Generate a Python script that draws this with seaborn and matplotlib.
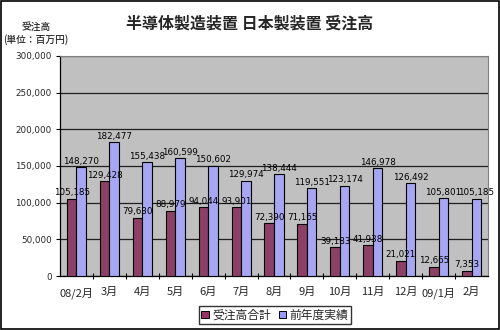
import matplotlib
matplotlib.use("Agg")
import matplotlib.pyplot as plt
import matplotlib.patches as mpatches
from matplotlib.ticker import FixedLocator, FuncFormatter
import seaborn as sns
import pandas as pd

months = ["08/2月", "3月", "4月", "5月", "6月", "7月", "8月", "9月",
          "10月", "11月", "12月", "09/1月", "2月"]
orders_total = [105185, 129428, 79630, 88979, 94044, 93901, 72390, 71165,
                39183, 41938, 21021, 12665, 7353]
prev_year = [148270, 182477, 155438, 160599, 150602, 129974, 138444, 119551,
             123174, 146978, 126492, 105801, 105185]
series_names = ["受注高合計", "前年度実績"]
yticks = [0, 50000, 100000, 150000, 200000, 250000, 300000]
title = "半導体製造装置 日本製装置 受注高"
ylabel_lines = ["受注高", "(単位：百万円)"]
colors = ["#993366", "#9999FF"]

sns.set_theme(style="white")
plt.rcParams['font.family'] = ['Noto Sans CJK JP', 'DejaVu Sans']

df = pd.DataFrame({
    "month": months * 2,
    "value": orders_total + prev_year,
    "series": [series_names[0]] * len(months) + [series_names[1]] * len(months),
})

fig = plt.figure(figsize=(5, 3.3), dpi=100)
fig.patch.set_facecolor("white")
ax = fig.add_axes([60 / 500, 1 - 276 / 330, 428 / 500, 220 / 330])
ax.set_facecolor("#C0C0C0")

sns.barplot(data=df, x="month", y="value", hue="series", palette=colors,
            width=0.58, edgecolor="black", linewidth=0.8, ax=ax,
            legend=False, zorder=3)

ax.set_ylim(0, 300000)
ax.set_xlim(-0.5, len(months) - 0.5)
ax.yaxis.set_major_locator(FixedLocator(yticks))
ax.yaxis.set_major_formatter(FuncFormatter(lambda v, p: f"{int(v):,}"))
ax.grid(axis="y", color="#202020", linewidth=0.9, zorder=0)
ax.set_axisbelow(True)

for side in ["top", "right"]:
    ax.spines[side].set_color("#808080")
    ax.spines[side].set_linewidth(0.8)
for side in ["left", "bottom"]:
    ax.spines[side].set_color("black")
    ax.spines[side].set_linewidth(0.9)

ax.tick_params(axis="y", which="major", direction="out", length=3, width=0.8,
               color="black", labelsize=6.3, pad=3, left=True)
for lab in ax.get_yticklabels():
    lab.set_fontfamily("DejaVu Sans")
ax.tick_params(axis="x", which="major", length=0, labelsize=8, pad=8)
ax.set_xticks(range(len(months)))
ax.set_xticks([i + 0.5 for i in range(len(months) - 1)], minor=True)
ax.tick_params(axis="x", which="minor", direction="inout", length=4,
               width=0.8, color="black", bottom=True)
ax.set_xlabel("")
ax.set_ylabel("")

for cont, vals in zip(ax.containers, [orders_total, prev_year]):
    ax.bar_label(cont, labels=[f"{v:,}" for v in vals], fontsize=6.3,
                 padding=1, color="black", fontfamily="DejaVu Sans")

fig.text(0.5, 1 - 24 / 330, title, ha="center", va="center", fontsize=11.5,
         fontweight="bold")
fig.text(36 / 500, 1 - 27 / 330, ylabel_lines[0], ha="center", va="center",
         fontsize=7, fontweight="medium")
fig.text(36 / 500, 1 - 40 / 330, ylabel_lines[1], ha="center", va="center",
         fontsize=7, fontweight="medium")

handles = [mpatches.Patch(facecolor=c, edgecolor="black", linewidth=0.7,
                          label=n) for c, n in zip(colors, series_names)]
leg = fig.legend(handles=handles, loc="center", ncol=2,
                 bbox_to_anchor=(275 / 500, 1 - 315 / 330), fontsize=8.5,
                 frameon=True, fancybox=False, edgecolor="black",
                 handlelength=0.6, handleheight=0.6, handletextpad=0.3,
                 columnspacing=0.7, borderpad=0.25, borderaxespad=0)
leg.get_frame().set_linewidth(1.0)

fig.add_artist(mpatches.Rectangle((0.002, 0.003), 0.996, 0.994,
                                  transform=fig.transFigure, fill=False,
                                  edgecolor="black", linewidth=1.2))

fig.savefig("out.png", dpi=100)
